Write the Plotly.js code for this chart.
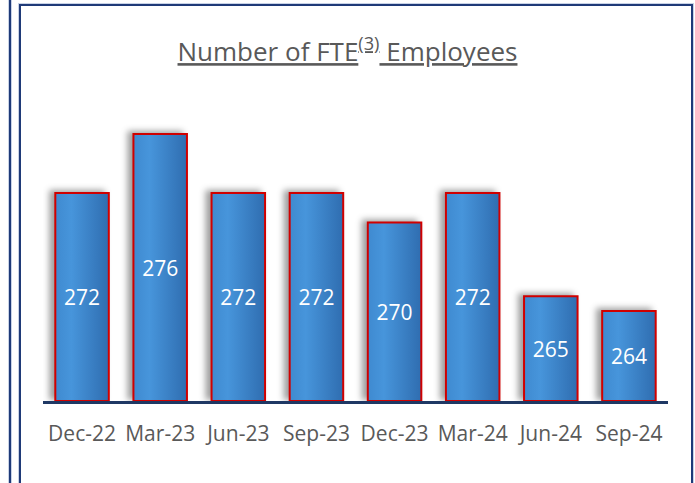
<!DOCTYPE html>
<html>
<head>
<meta charset="utf-8">
<script src="https://cdn.plot.ly/plotly-3.0.1.min.js"></script>
<style>
  html, body { margin: 0; padding: 0; background: #ffffff; }
  #wrap { position: relative; width: 695px; height: 483px; overflow: hidden; background: #fff; }
  #chart { position: absolute; left: 0; top: 0; width: 695px; height: 483px; }
  .frame { position: absolute; pointer-events: none; }
  #box { left: 19px; top: 4px; width: 670px; height: 500px; border: 2px solid #1f3a78; box-shadow: 0 0 0 1px #c8d2e6; }
  #sideline { left: 9px; top: -5px; width: 0; height: 500px; border-left: 2px solid #1f3a78; box-shadow: 0 0 0 1px #c8d2e6; }
  .trace.bars .point path {
    fill: url(#barGrad) !important;
    filter: drop-shadow(-5px -2px 3px rgba(0,0,0,0.38));
  }
</style>
</head>
<body>
<div id="wrap">
  <div id="chart"></div>
  <div class="frame" id="box"></div>
  <div class="frame" id="sideline"></div>
</div>
<script>
const categories = ["Dec-22", "Mar-23", "Jun-23", "Sep-23", "Dec-23", "Mar-24", "Jun-24", "Sep-24"];
const fteEmployees = [272, 276, 272, 272, 270, 272, 265, 264];
const chartTitle = "Number of FTE<sup>(3)</sup> Employees";
const axisFloor = 257.9;   // value axis starts here (bars drawn from the floor)
const axisTop = 278.31;

const trace = {
  type: "bar",
  x: categories,
  base: fteEmployees.map(function () { return axisFloor; }),
  y: fteEmployees.map(function (v) { return v - axisFloor; }),
  text: fteEmployees.map(String),
  textposition: "inside",
  insidetextanchor: "middle",
  textangle: 0,
  constraintext: "none",
  textfont: { family: "Open Sans, sans-serif", size: 21, color: "#ffffff" },
  marker: { color: "#3d84c8", line: { color: "#d00000", width: 2 } },
  width: 0.685,
  hovertemplate: "%{x}: %{text}<extra></extra>"
};

const layout = {
  width: 695,
  height: 483,
  margin: { l: 43, r: 27, t: 100, b: 82 },
  paper_bgcolor: "rgba(0,0,0,0)",
  plot_bgcolor: "rgba(0,0,0,0)",
  showlegend: false,
  title: {
    text: chartTitle,
    x: 0.5, xref: "container", xanchor: "center",
    y: 1 - 52 / 483, yref: "container", yanchor: "middle",
    font: { family: "Open Sans, sans-serif", size: 26, color: "#595959", lineposition: "under" }
  },
  xaxis: {
    type: "category",
    range: [-0.5, 7.5],
    showline: true, linecolor: "#1f3864", linewidth: 3,
    showgrid: false, zeroline: false, ticks: "",
    ticklabelstandoff: 12,
    tickfont: { family: "Open Sans, sans-serif", size: 21, color: "#595959" },
    fixedrange: true
  },
  yaxis: {
    range: [axisFloor, axisTop],
    visible: false, showgrid: false, zeroline: false,
    fixedrange: true
  }
};

Plotly.newPlot("chart", [trace], layout, { displayModeBar: false, staticPlot: true }).then(function (gd) {
  const svg = gd.querySelector(".main-svg");
  const ns = "http://www.w3.org/2000/svg";
  let defs = svg.querySelector("defs");
  if (!defs) { defs = document.createElementNS(ns, "defs"); svg.insertBefore(defs, svg.firstChild); }
  const grad = document.createElementNS(ns, "linearGradient");
  grad.setAttribute("id", "barGrad");
  grad.setAttribute("x1", "0"); grad.setAttribute("y1", "0");
  grad.setAttribute("x2", "1"); grad.setAttribute("y2", "0");
  [["0", "#3f8ad0"], ["0.3", "#4795db"], ["1", "#2f6db0"]].forEach(function (s) {
    const st = document.createElementNS(ns, "stop");
    st.setAttribute("offset", s[0]);
    st.setAttribute("stop-color", s[1]);
    grad.appendChild(st);
  });
  defs.appendChild(grad);
});
</script>
</body>
</html>
